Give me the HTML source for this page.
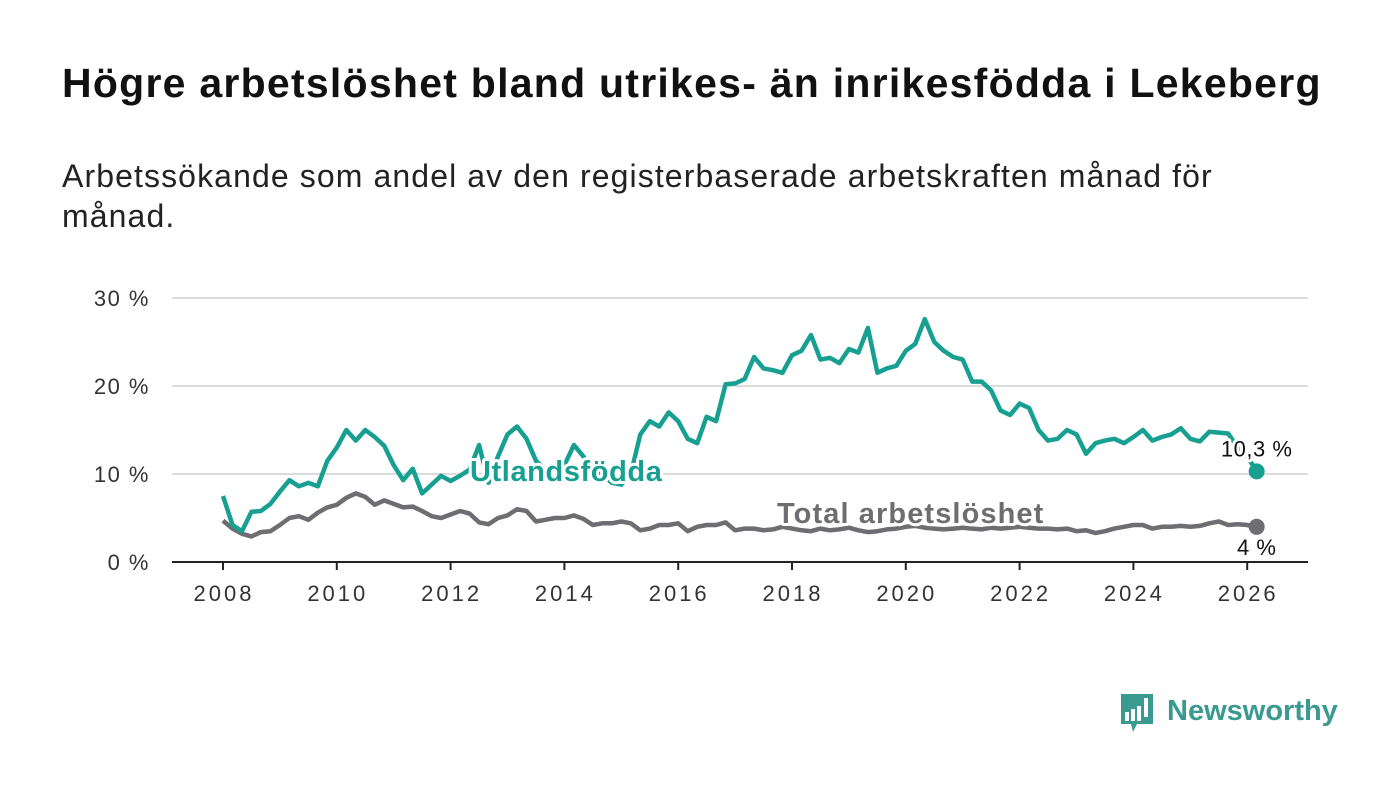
<!DOCTYPE html>
<html><head><meta charset="utf-8"><style>
body{margin:0;background:#fff;width:1400px;height:794px;overflow:hidden;font-family:"Liberation Sans","DejaVu Sans",sans-serif}
h1{position:absolute;left:62px;top:60px;margin:0;font-size:41px;font-weight:bold;color:#111;letter-spacing:1.25px;white-space:nowrap}
p.sub{position:absolute;left:62px;top:156px;margin:0;font-size:32px;line-height:40px;color:#222;width:1300px;letter-spacing:1.1px}
svg{position:absolute;left:0;top:0}
</style></head><body>
<h1>Högre arbetslöshet bland utrikes- än inrikesfödda i Lekeberg</h1>
<p class="sub">Arbetssökande som andel av den registerbaserade arbetskraften månad för<br>månad.</p>
<svg id="chart" width="1400" height="794"></svg>
<script>
const yTicks=[0,10,20,30];
const yTickLabels=["0 %","10 %","20 %","30 %"];
const xTicks=[2008,2010,2012,2014,2016,2018,2020,2022,2024,2026];
const startYear=2008;
const stepsPerYear=6;
const foreign=[7.5,4.2,3.5,5.7,5.8,6.6, 8.0,9.3,8.6,9.0,8.6,11.5, 13.0,15.0,13.8,15.0,14.2,13.2, 11.0,9.3,10.6,7.8,8.8,9.8, 9.2,9.8,10.5,13.3,9.0,12.0, 14.5,15.4,14.0,11.5,10.5,11.0, 11.0,13.3,12.0,10.5,10.0,9.0, 8.8,10.0,14.5,16.0,15.4,17.0, 16.0,14.0,13.5,16.5,16.0,20.2, 20.3,20.8,23.3,22.0,21.8,21.5, 23.5,24.0,25.8,23.0,23.2,22.6, 24.2,23.8,26.6,21.5,22.0,22.3, 24.0,24.8,27.6,25.0,24.0,23.3, 23.0,20.5,20.5,19.5,17.2,16.7, 18.0,17.5,15.0,13.8,14.0,15.0, 14.5,12.3,13.5,13.8,14.0,13.5, 14.2,15.0,13.8,14.2,14.5,15.2, 14.0,13.7,14.8,14.7,14.6,13.0, 12.0,10.3];
const total=[4.7,3.8,3.2,2.9,3.4,3.5, 4.2,5.0,5.2,4.8,5.6,6.2, 6.5,7.3,7.8,7.4,6.5,7.0, 6.6,6.2,6.3,5.8,5.2,5.0, 5.4,5.8,5.5,4.5,4.3,5.0, 5.3,6.0,5.8,4.6,4.8,5.0, 5.0,5.3,4.9,4.2,4.4,4.4, 4.6,4.4,3.6,3.8,4.2,4.2, 4.4,3.5,4.0,4.2,4.2,4.5, 3.6,3.8,3.8,3.6,3.7,4.0, 3.8,3.6,3.5,3.8,3.6,3.7, 3.9,3.6,3.4,3.5,3.7,3.8, 4.0,4.1,3.9,3.8,3.7,3.8, 3.9,3.8,3.7,3.9,3.8,3.9, 4.0,3.9,3.8,3.8,3.7,3.8, 3.5,3.6,3.3,3.5,3.8,4.0, 4.2,4.2,3.8,4.0,4.0,4.1, 4.0,4.1,4.4,4.6,4.2,4.3, 4.2,4.0];
const foreignLast="10,3 %", totalLast="4 %";

const svg=document.getElementById('chart');
const NS="http://www.w3.org/2000/svg";
const X=yr=>223+(yr-2008)*56.9;
const Y=v=>562-v*8.8;
function mk(tag,attrs,parent){const e=document.createElementNS(NS,tag);for(const k in attrs)e.setAttribute(k,attrs[k]);(parent||svg).appendChild(e);return e;}
yTicks.forEach((t,i)=>{
  if(t>0){const g=mk('line',{x1:172,x2:1308,y1:Y(t),y2:Y(t),stroke:'#dcdcdc','stroke-width':2});
  
  }
  const l=mk('text',{x:150,y:Y(t)+8,'text-anchor':'end','font-size':22,fill:'#333','letter-spacing':1.5});
  l.textContent=yTickLabels[i];
  
  
});
const ax=mk('line',{x1:172,x2:1308,y1:562,y2:562,stroke:'#222','stroke-width':2});


xTicks.forEach(t=>{
  mk('line',{x1:X(t),x2:X(t),y1:562,y2:570,stroke:'#222','stroke-width':2});
  const l=mk('text',{x:X(t)+1,y:601,'text-anchor':'middle','font-size':22,fill:'#333','letter-spacing':3});
  l.textContent=t;
  
  
});
function series(arr,color,name){
  const d=arr.map((v,i)=>(i?'L':'M')+X(startYear+i/stepsPerYear).toFixed(1)+','+Y(v).toFixed(1)).join('');
  const p=mk('path',{d:d,fill:'none',stroke:color,'stroke-width':4.5,'stroke-linejoin':'round'});
  
  
  const n=arr.length-1;
  const c=mk('circle',{cx:X(startYear+n/stepsPerYear),cy:Y(arr[n]),r:8,fill:color});
  
  
  return n;
}
const n1=series(total,'#6d6d72','total');
const n2=series(foreign,'#17a091','foreign');
function label(txt,x,y,size,color,weight,name,anchor,ls){
  const t=mk('text',{x:x,y:y,'font-size':size,fill:color,'font-weight':weight,stroke:'#fff','stroke-width':6,'paint-order':'stroke','stroke-linejoin':'round','text-anchor':anchor||'start','letter-spacing':ls||0});
  t.textContent=txt;
  
  
}
label('Utlandsfödda',470,481,29,'#17a091','bold','foreign-series-label','start',0.6);
label('Total arbetslöshet',777,523,29,'#6d6d72','bold','total-series-label','start',1.1);
label(foreignLast,X(startYear+n2/stepsPerYear),Y(foreign[n2])-15,22,'#111','normal','foreign-end-value','middle',0.5);
label(totalLast,X(startYear+n1/stepsPerYear),Y(total[n1])+28,22,'#111','normal','total-end-value','middle',0.5);
// logo
const g=mk('g',{});


mk('path',{d:'M1121,694 h32 v30 h-16 l-4,8 l-2,-8 h-10 z',fill:'#3a9a90'},g);
[[1125,712,4,9],[1131,709,4,12],[1137,706,4,15],[1144,698,4,19]].forEach(r=>mk('rect',{x:r[0],y:r[1],width:r[2],height:r[3],fill:'#fff'},g));
const lt=mk('text',{x:1167,y:720,'font-size':29,fill:'#3a9a90','font-weight':'bold'},g);
lt.textContent='Newsworthy';
</script>
</body></html>
